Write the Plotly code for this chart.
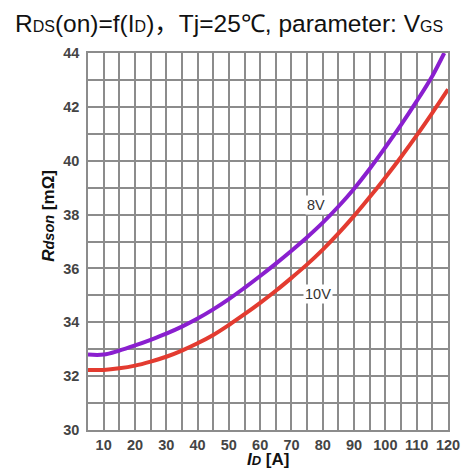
import plotly.graph_objects as go

# Drain current I_D [A]
id_8v = [5, 10, 15, 20, 25, 30, 35, 40, 45, 50, 55, 60, 65, 70, 75, 80, 85, 90, 95, 100, 105, 110, 115, 118.8]
rds_8v = [32.8, 32.8, 32.95, 33.14, 33.35, 33.58, 33.84, 34.14, 34.48, 34.86, 35.28, 35.72, 36.18, 36.66,
          37.16, 37.7, 38.3, 38.96, 39.7, 40.5, 41.33, 42.21, 43.15, 44.0]

id_10v = [5, 10, 15, 20, 25, 30, 35, 40, 45, 50, 55, 60, 65, 70, 75, 80, 85, 90, 95, 100, 105, 110, 115, 120]
rds_10v = [32.23, 32.23, 32.29, 32.39, 32.54, 32.72, 32.95, 33.22, 33.53, 33.9, 34.3, 34.72, 35.17, 35.65,
           36.15, 36.7, 37.3, 37.95, 38.65, 39.38, 40.14, 40.94, 41.78, 42.65]

x_ticks = [10, 20, 30, 40, 50, 60, 70, 80, 90, 100, 110, 120]
y_ticks = [30, 32, 34, 36, 38, 40, 42, 44]

GRID = "#8c8c8c"
FONT = "Liberation Sans, Arial, sans-serif"

fig = go.Figure()
fig.add_trace(go.Scatter(x=id_10v, y=rds_10v, mode="lines", line=dict(color="#e33b30", width=4, shape="spline"),
                         showlegend=False, hoverinfo="skip"))
fig.add_trace(go.Scatter(x=id_8v, y=rds_8v, mode="lines", line=dict(color="#8a1fcf", width=4, shape="spline"),
                         showlegend=False, hoverinfo="skip"))

fig.update_layout(
    width=472, height=473,
    margin=dict(l=88, r=17, t=53, b=43),
    paper_bgcolor="white", plot_bgcolor="white",
    font=dict(family=FONT),
    xaxis=dict(range=[5, 120], tickmode="array", tickvals=x_ticks, ticktext=[str(v) for v in x_ticks],
               showgrid=True, gridcolor=GRID, gridwidth=1.5,
               minor=dict(dtick=5, tick0=5, showgrid=True, gridcolor=GRID, gridwidth=1.5),
               showline=True, linecolor=GRID, linewidth=1.5, mirror=True, zeroline=False,
               ticks="", ticklabelstandoff=1,
               tickfont=dict(size=14.5, color="#444", family=FONT, weight="bold")),
    yaxis=dict(range=[30, 44], tickmode="array", tickvals=y_ticks, ticktext=[str(v) for v in y_ticks],
               showgrid=True, gridcolor=GRID, gridwidth=1.5,
               minor=dict(dtick=1, tick0=30, showgrid=True, gridcolor=GRID, gridwidth=1.5),
               showline=True, linecolor=GRID, linewidth=1.5, mirror=True, zeroline=False,
               ticks="", ticklabelstandoff=4,
               tickfont=dict(size=14.5, color="#444", family=FONT, weight="bold")),
)

annotations = [
    dict(text="R<span style='font-size:16px'>DS</span>(on)=f(I<span style='font-size:16px'>D</span>)"
              "<span style=\"font-family:'Noto Sans CJK SC'\">，</span>Tj=25℃, parameter: V<span style='font-size:16px'>GS</span>",
         xref="paper", yref="paper", x=(12 - 88) / 367, y=1 + (53 - 22) / 377, xanchor="left", yanchor="middle",
         showarrow=False, font=dict(size=24.5, color="#111", family=FONT)),
    dict(text="<i>R</i><i><span style='font-size:14.5px'>dson</span></i> [mΩ]",
         xref="paper", yref="paper", x=(47 - 88) / 367, y=(430 - 216) / 377, xanchor="center", yanchor="middle",
         textangle=-90, showarrow=False, font=dict(size=17, color="#111", family=FONT, weight="bold")),
    dict(text="<i>I</i><i><span style='font-size:13px'>D</span></i> [A]",
         xref="paper", yref="paper", x=(272 - 88) / 367, y=-(460 - 430) / 377, xanchor="center", yanchor="middle",
         showarrow=False, font=dict(size=17, color="#111", family=FONT, weight="bold")),
    dict(text="8V", x=77.8, y=38.36, xref="x", yref="y", showarrow=False, bgcolor="white",
         font=dict(size=14.5, color="#333", family=FONT)),
    dict(text="10V", x=78.4, y=35.05, xref="x", yref="y", showarrow=False, bgcolor="white",
         font=dict(size=14.5, color="#333", family=FONT)),
]
fig.update_layout(annotations=annotations)

fig.write_html("out.html")
